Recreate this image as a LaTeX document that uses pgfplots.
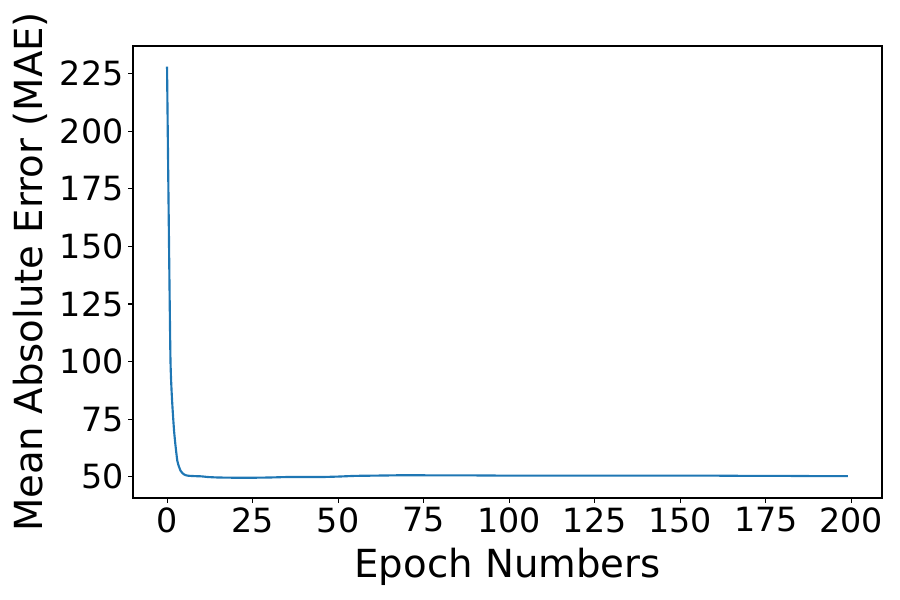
\documentclass[border=0pt]{standalone}
\usepackage{pgfplots}
\pgfplotsset{compat=1.18}
\usepackage{fontspec}
\setmainfont{DejaVu Sans}
\definecolor{mplblue}{HTML}{1F77B4}
\begin{document}
\begin{tikzpicture}
\path[use as bounding box] (-99.75pt,-76.5pt) rectangle (575.25pt,373.5pt);
\begin{axis}[
  at={(0,0)}, anchor=south west,
  scale only axis, width=561.75pt, height=339pt,
  xmin=-9.95, xmax=208.95, ymin=40.8, ymax=237.0,
  xtick={0,25,...,200}, ytick={50,75,...,225},
  tick align=outside, tick pos=left,
  major tick length=3.6pt,
  every tick/.style={black, line width=0.8pt},
  axis line style={line width=0.8pt},
  /pgf/number format/assume math mode=true,
  ticklabel style={font=\fontsize{25}{30}\selectfont},
  xlabel={Epoch Numbers}, ylabel={Mean Absolute Error (MAE)},
  label style={font=\fontsize{29}{34}\selectfont},
  xlabel style={yshift=-5pt},
  ylabel style={yshift=2pt},
  scaled ticks=false,
]
\addplot[mplblue, line width=1.6pt, smooth, tension=0.3] coordinates {
(0,228) (1,101) (2,71) (3,57) (4,52.5) (5,51) (6,50.5) (8,50.3) (10,50.2)
(12,49.9) (15,49.7) (20,49.6) (25,49.6) (30,49.7) (35,49.9) (40,49.9) (45,49.9)
(50,50.1) (55,50.4) (60,50.5) (65,50.6) (70,50.7) (80,50.6) (90,50.6) (100,50.5)
(110,50.5) (120,50.5) (130,50.5) (140,50.5) (150,50.5) (160,50.5) (170,50.4)
(180,50.4) (190,50.3) (199,50.3)
};
\end{axis}
\end{tikzpicture}
\end{document}
